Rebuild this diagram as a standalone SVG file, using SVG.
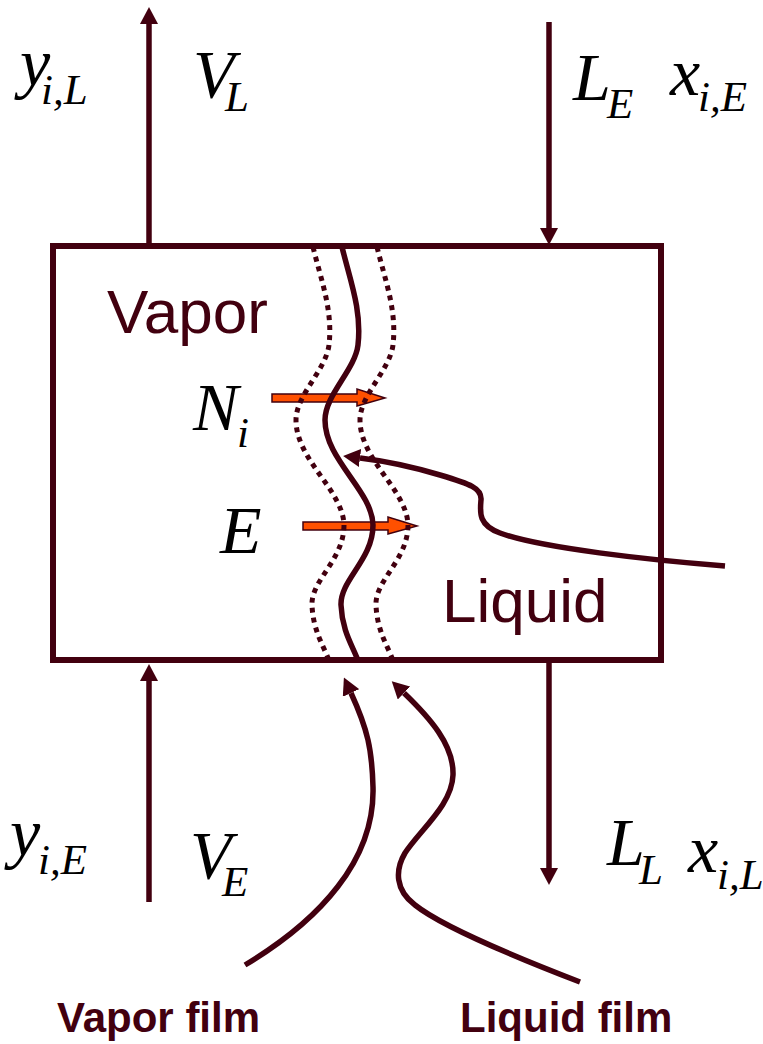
<svg xmlns="http://www.w3.org/2000/svg" width="763" height="1044" viewBox="0 0 763 1044">
<style>
.ln{fill:none;stroke:#42000f;stroke-width:5.5}
.dot{fill:none;stroke:#42000f;stroke-width:5;stroke-dasharray:5 5}
.flux{fill:#ff5000;stroke:#42000f;stroke-width:1.5}
.m{font-family:"Liberation Serif","Times New Roman",serif;font-style:italic;fill:#000}
.big{font-size:68px}
.sub{font-size:43px}
.lbl{font-family:"Liberation Sans",Arial,sans-serif;font-size:62px;fill:#42000f}
.film{font-family:"Liberation Sans",Arial,sans-serif;font-size:42px;font-weight:bold;fill:#42000f}
</style>
<defs>
<marker id="ah" viewBox="0 0 17 18" markerWidth="17" markerHeight="18" refX="0" refY="9" orient="auto" markerUnits="userSpaceOnUse">
<path d="M0,0 L17,9 L0,18 z" fill="#42000f"/>
</marker>
<path id="iface" d="M342,247 C350,280 362,310 358,345 C355,370 325,395 325,420 C325,460 372,490 373,525 C373,560 340,580 341,605 C342,630 352,645 357,658"/>
</defs>

<g id="stage">
<rect x="53" y="246" width="608" height="414" fill="none" stroke="#42000f" stroke-width="6"/>
<text class="lbl" x="107" y="333">Vapor</text>
<text class="lbl" x="442" y="622">Liquid</text>
</g>

<g id="fluxes">
<polygon class="flux" points="272,394 357,394 357,389 385,398 357,406 357,402 272,402"/>
<polygon class="flux" points="303,522 388,522 388,517 417,526 388,534 388,530 303,530"/>
</g>

<g id="interface">
<use href="#iface" class="ln"/>
<use href="#iface" class="dot" transform="translate(-29,0)"/>
<use href="#iface" class="dot" transform="translate(35,0)"/>
</g>

<g id="connectors">
<path class="ln" d="M149,245 L149,24" marker-end="url(#ah)"/>
<path class="ln" d="M549,22 L549,228" marker-end="url(#ah)"/>
<path class="ln" d="M149,902 L149,681" marker-end="url(#ah)"/>
<path class="ln" d="M549,662 L549,868" marker-end="url(#ah)"/>
<path class="ln" d="M725,566 C650,560 540,548 500,533 C478,525 480,512 481,500 C482,488 470,484 440,475 C410,466 385,461 360,458" marker-end="url(#ah)"/>
<path class="ln" d="M245,965 C320,920 375,860 373,787 C372,750 368,730 351,693" marker-end="url(#ah)"/>
<path class="ln" d="M580,982 C510,955 440,925 415,905 C395,890 395,870 405,853 C420,830 452,805 453,775 C454,745 430,718 404,693" marker-end="url(#ah)"/>
</g>

<g id="label-yiL"><text class="m big" x="20" y="86">y</text><text class="m sub" x="41" y="104">i,L</text></g>
<g id="label-VL"><text class="m big" x="193" y="97">V</text><text class="m sub" x="225" y="111">L</text></g>
<g id="label-LE"><text class="m big" x="573" y="100">L</text><text class="m sub" x="607" y="118">E</text></g>
<g id="label-xiE"><text class="m big" x="670" y="95">x</text><text class="m sub" x="698" y="111">i,E</text></g>
<g id="label-Ni"><text class="m big" x="193" y="430">N</text><text class="m sub" x="237" y="447">i</text></g>
<g id="label-E"><text class="m big" x="220" y="553">E</text></g>
<g id="label-yiE"><text class="m big" x="10" y="856">y</text><text class="m sub" x="38" y="874">i,E</text></g>
<g id="label-VE"><text class="m big" x="190" y="878">V</text><text class="m sub" x="222" y="896">E</text></g>
<g id="label-LL"><text class="m big" x="607" y="865">L</text><text class="m sub" x="639" y="884">L</text></g>
<g id="label-xiL"><text class="m big" x="688" y="872">x</text><text class="m sub" x="717" y="889">i,L</text></g>

<g id="film-labels">
<text class="film" x="57" y="1032">Vapor film</text>
<text class="film" x="460" y="1032">Liquid film</text>
</g>
</svg>
